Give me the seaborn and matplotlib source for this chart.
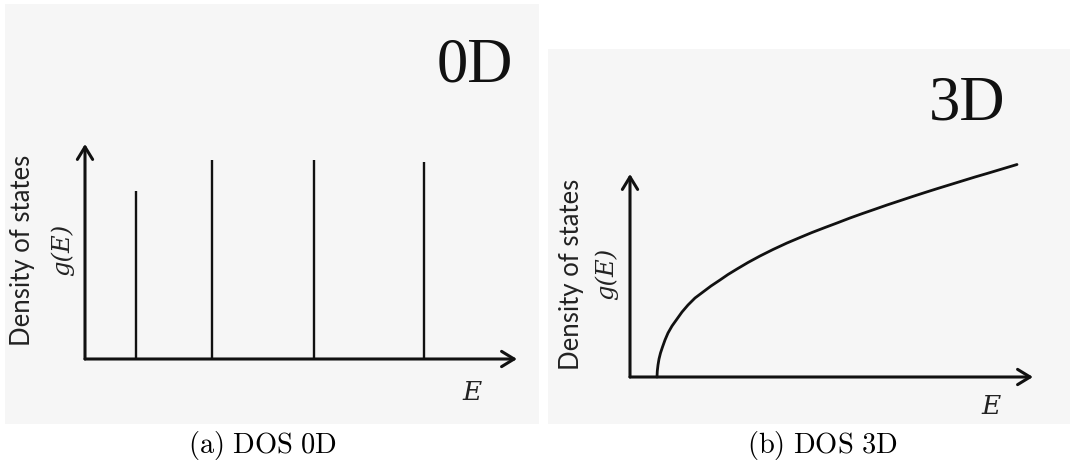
import numpy as np
import pandas as pd
import matplotlib
matplotlib.use("Agg")
import matplotlib.pyplot as plt
import seaborn as sns

# Discrete levels of a quantum dot (0D): energies and peak heights
levels_E = [51, 127, 229, 339]
levels_g = [168, 199, 199, 197]

# Bulk (3D) density of states, sampled along the curve
bulk_E = [27, 27.3, 28, 29, 30.5, 32.5, 35, 38, 42, 47, 52, 58, 65, 73, 81, 90,
          98, 107, 118, 130, 143, 157, 170, 182, 195, 207, 220, 232, 245, 257,
          270, 282, 295, 307, 320, 332, 345, 357, 372, 387]
bulk_g = [0, 6, 12, 18, 24, 30, 37, 44, 51, 58, 65, 72, 79, 85, 91, 97,
          102.5, 108, 114.5, 121, 127.5, 134, 139.5, 144.5, 149.5, 154, 159,
          163.3, 167.8, 172, 176.3, 180.3, 184.5, 188.3, 192.3, 196, 200,
          203.5, 208, 212.5]

panel_titles = ["0D", "3D"]
captions = ["(a) DOS 0D", "(b) DOS 3D"]
ylabel_text = "Density of states"
glabel_text = "g(E)"
xlabel_text = "E"

sns.set_theme(style="white")
plt.rcParams["mathtext.fontset"] = "cm"

W, H = 1072, 477
fig = plt.figure(figsize=(W / 100, H / 100), dpi=100)
fig.patch.set_facecolor("white")

panel_bg = "#f6f6f6"
ink = "#111111"


def px_axes(x0, y0, x1, y1):
    return fig.add_axes([x0 / W, 1 - y1 / H, (x1 - x0) / W, (y1 - y0) / H])


def draw_axes_arrows(ax, xtip, ytip):
    style = "->,head_length=0.9,head_width=0.55"
    for tip in [(xtip, 0), (0, ytip)]:
        ax.annotate("", xy=tip, xytext=(0, 0),
                    arrowprops=dict(arrowstyle=style, lw=2.2, color=ink,
                                    shrinkA=0, shrinkB=0, mutation_scale=10))


def decorate(ax, title, title_xy, ylab_x, glab_x, lab_y, e_xy):
    ax.set_facecolor(panel_bg)
    for s in ax.spines.values():
        s.set_visible(False)
    ax.set_xticks([])
    ax.set_yticks([])
    ax.set_xlabel("")
    ax.set_ylabel("")
    ax.text(*title_xy, title, fontsize=45, family="Liberation Serif",
            ha="center", va="center", color=ink)
    ax.text(ylab_x, lab_y, ylabel_text, rotation=90, fontsize=18.5,
            family="Lato", ha="center", va="center", color="#222222")
    ax.text(glab_x, lab_y, glabel_text, rotation=90, fontsize=17.5,
            family="DejaVu Serif", style="italic", ha="center", va="center",
            color="#222222")
    ax.text(*e_xy, xlabel_text, fontsize=19, family="DejaVu Serif",
            style="italic", ha="center", va="center", color="#222222")


# ---- (a) 0D ----
ax0 = px_axes(5, 5, 539, 425)
ax0.set_xlim(5 - 85, 539 - 85)
ax0.set_ylim(360 - 425, 360 - 5)
ax0.vlines(levels_E, 0, levels_g, color=ink, lw=1.7)
draw_axes_arrows(ax0, 432, 215)
decorate(ax0, panel_titles[0], (390, 293), -62, -23, 110, (387, -33))

# ---- (b) 3D ----
ax1 = px_axes(548, 50, 1070, 425)
df = pd.DataFrame({"E": bulk_E, "g": bulk_g})
sns.lineplot(data=df, x="E", y="g", ax=ax1, color=ink, lw=2.0, sort=False)
ax1.set_xlim(548 - 630, 1070 - 630)
ax1.set_ylim(378 - 425, 378 - 50)
draw_axes_arrows(ax1, 403, 203)
decorate(ax1, panel_titles[1], (337, 273), -59, -24, 104, (361, -29))

# ---- captions ----
for cx, cap in zip([263, 822], captions):
    label = r"$\mathrm{" + cap.replace(" ", r"\ ") + "}$"
    fig.text(cx / W, 1 - 446 / H, label, fontsize=20.5, ha="center",
             va="center", color="black")

fig.savefig("out.png", dpi=100, facecolor="white")
